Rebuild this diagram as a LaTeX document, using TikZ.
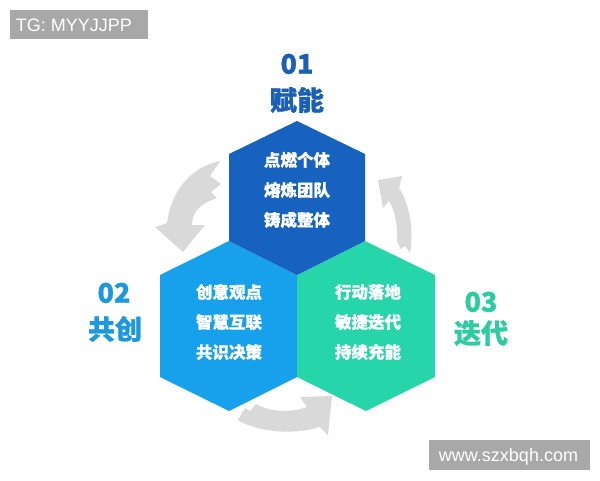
\documentclass[tikz,border=0pt]{standalone}
\usepackage{fontspec}
\newfontfamily\cjk{Noto Sans CJK SC}[BoldFeatures={FakeBold=0.9}]
\newfontfamily\wmfont{Liberation Sans}
\definecolor{hexD}{HTML}{1662BE}
\definecolor{hexL}{HTML}{17A0EC}
\definecolor{hexG}{HTML}{27D5AA}
\definecolor{labD}{HTML}{1A60B4}
\definecolor{labL}{HTML}{1C98DC}
\definecolor{labG}{HTML}{2CCBA2}
\definecolor{arrowgray}{HTML}{D9D9D9}
\definecolor{wmgray}{HTML}{A8A8A8}
\tikzset{
  intext/.style={text=white, font=\cjk\bfseries\fontsize{16.5}{30}\selectfont, align=center, inner sep=0pt},
  numtext/.style={font=\cjk\bfseries\fontsize{27}{27}\selectfont, inner sep=0pt, text height=19.4pt, text depth=0pt},
  titletext/.style={font=\cjk\bfseries\fontsize{27}{27}\selectfont, inner sep=0pt, text height=23.8pt, text depth=3.2pt},
  wmtext/.style={text=white, font=\wmfont\fontsize{18}{18}\selectfont, inner sep=0pt, text height=13pt, text depth=0pt},
  cyclearrow/.style={fill=arrowgray, draw=none},
}
\begin{document}
\begin{tikzpicture}[x=1pt,y=-1pt]
\useasboundingbox (0,0) rectangle (600,480);
\fill[white] (0,0) rectangle (600,480);
% hexagons
\fill[hexL] (229,241) -- (297,275) -- (297,377) -- (229,411) -- (160,377) -- (160,275) -- cycle;
\fill[hexG] (365,241) -- (435,275) -- (435,377) -- (366,411) -- (297,377) -- (297,275) -- cycle;
\fill[hexD] (297,121) -- (365,154) -- (365,241) -- (297,275) -- (229,241) -- (229,154) -- cycle;
% arrows
\fill[cyclearrow] (220,161) .. controls (195,166) and (172,186) .. (167,223)
  -- (155,227) -- (183,252) -- (205,225) -- (192,225)
  .. controls (192,213) and (199,204) .. (217,198)
  -- (211,192) -- (221,184) -- (210,176) -- cycle;
\fill[cyclearrow] (378,180) -- (402,176) -- (399,188)
  .. controls (410,205) and (414,230) .. (410,253)
  -- (405,246) -- (401,249) -- (397,242)
  .. controls (398,226) and (395,211) .. (389,201)
  -- (383,208) -- cycle;
\fill[cyclearrow] (238,420) .. controls (255,431) and (290,436) .. (320,427)
  -- (328,435) -- (332,396) -- (300,397) -- (307,407)
  .. controls (290,413) and (270,412) .. (256,404)
  -- (250,411) -- (245,408) -- cycle;
% inner texts
\node[intext] (tD) at (297,190) {点燃个体\\熔炼团队\\铸成整体};
\node[intext] (tL) at (229,322) {创意观点\\智慧互联\\共识决策};
\node[intext] (tG) at (368,322) {行动落地\\敏捷迭代\\持续充能};
% labels
\node[numtext, text=labD] (n1) at (297,64) {01};
\node[titletext, text=labD] (t1) at (297,100) {赋能};
\node[numtext, text=labL] (n2) at (114,293) {02};
\node[titletext, text=labL] (t2) at (115,329) {共创};
\node[numtext, text=labG] (n3) at (481,302) {03};
\node[titletext, text=labG] (t3) at (481,333) {迭代};
% watermarks
\fill[wmgray] (10,10) rectangle (148,39);
\node[wmtext] (wm1) at (74,24.5) {TG: MYYJJPP};
\fill[wmgray] (429,440) rectangle (590,470);
\node[wmtext] (wm2) at (508.5,455) {www.szxbqh.com};
\end{tikzpicture}
\end{document}
